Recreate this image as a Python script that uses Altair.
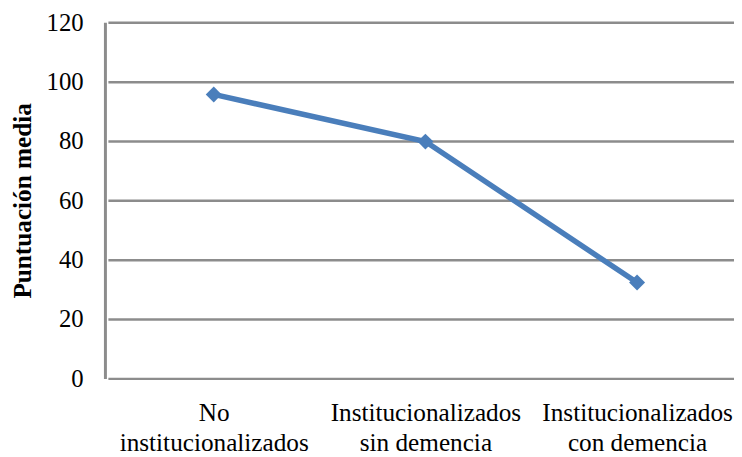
import altair as alt
import pandas as pd

categories = ["No|institucionalizados", "Institucionalizados|sin demencia", "Institucionalizados|con demencia"]
values = [95.7, 79.8, 32.3]
y_ticks = [0, 20, 40, 60, 80, 100, 120]

df = pd.DataFrame({"grupo": categories, "puntuacion": values})

FONT = "Liberation Serif"
BLUE = "#4A7EBB"
GRID = "#8c8c8c"

chart = alt.Chart(df).mark_line(
    color=BLUE, strokeWidth=5.5,
    point=alt.OverlayMarkDef(shape="diamond", size=260, filled=True, color=BLUE, opacity=1),
).encode(
    x=alt.X("grupo:N", sort=categories,
            scale=alt.Scale(type="point", range=[3, 645], padding=0.5),
            axis=alt.Axis(title=None, labelAngle=0, domain=False, ticks=False, grid=False,
                          labelExpr="split(datum.label, '|')", labelFont=FONT, labelFontSize=25.5,
                          labelColor="black", labelPadding=23, labelLineHeight=30,
                          labelBaseline="top", labelLimit=400)),
    y=alt.Y("puntuacion:Q",
            scale=alt.Scale(domain=[0, 120], nice=False, zero=True),
            axis=alt.Axis(values=y_ticks, title="Puntuación media", grid=True, gridColor=GRID,
                          gridWidth=2.5, gridOpacity=1, domain=True, domainColor=GRID, domainWidth=3,
                          ticks=False, labelPadding=22, labelFont=FONT, labelFontSize=25,
                          labelColor="black", titleFont=FONT, titleFontSize=25.5,
                          titleFontWeight="bold", titleColor="black", titlePadding=11)),
).properties(
    width=636, height=360,
    autosize=alt.AutoSizeParams(type="none"),
    padding={"left": 98, "top": 12, "right": 0, "bottom": 77},
).configure_view(stroke=None)

chart.save("out.html", embed_options={"renderer": "svg", "actions": False})
